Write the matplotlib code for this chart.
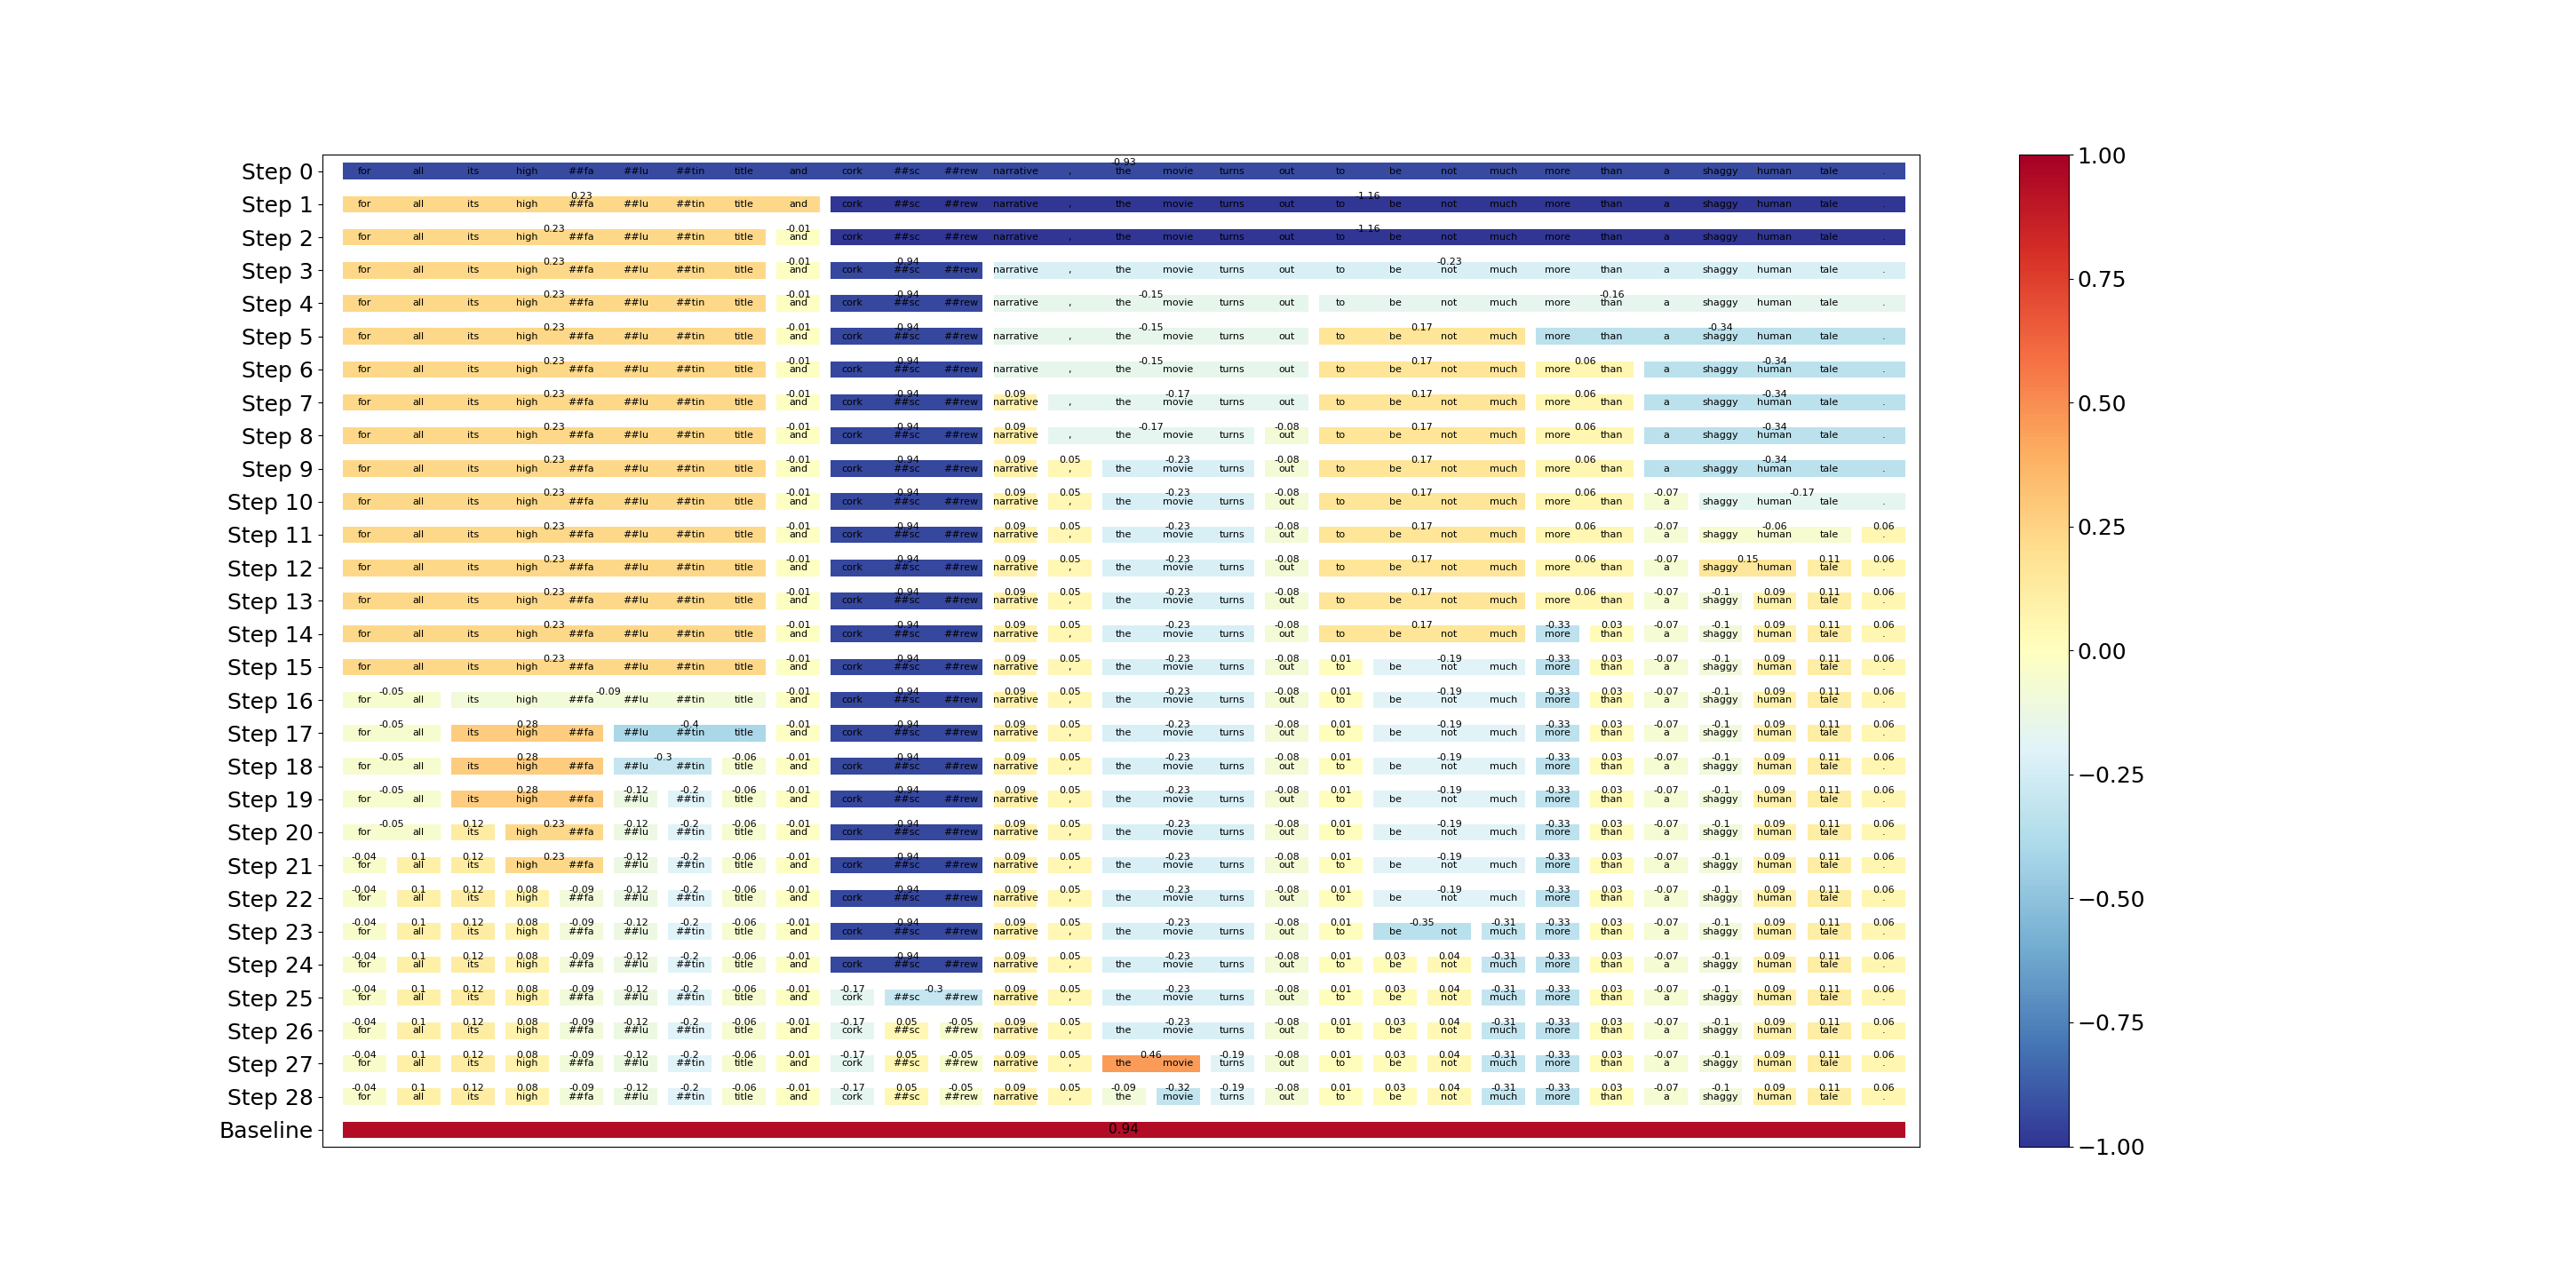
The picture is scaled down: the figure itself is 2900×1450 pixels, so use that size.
import matplotlib
matplotlib.use("Agg")
import matplotlib.pyplot as plt
from matplotlib import cm, colors

# tokens of the sentence
tokens = ["for", "all", "its", "high", "##fa", "##lu", "##tin", "title", "and",
          "cork", "##sc", "##rew", "narrative", ",", "the", "movie", "turns", "out",
          "to", "be", "not", "much", "more", "than", "a", "shaggy", "human", "tale", "."]

row_labels = [f"Step {i}" for i in range(29)] + ["Baseline"]

# first token index of every segment, per row
seg_starts = [
    [0],
    [0, 9],
    [0, 8, 9],
    [0, 8, 9, 12],
    [0, 8, 9, 12, 18],
    [0, 8, 9, 12, 18, 22],
    [0, 8, 9, 12, 18, 22, 24],
    [0, 8, 9, 12, 13, 18, 22, 24],
    [0, 8, 9, 12, 13, 17, 18, 22, 24],
    [0, 8, 9, 12, 13, 14, 17, 18, 22, 24],
    [0, 8, 9, 12, 13, 14, 17, 18, 22, 24, 25],
    [0, 8, 9, 12, 13, 14, 17, 18, 22, 24, 25, 28],
    [0, 8, 9, 12, 13, 14, 17, 18, 22, 24, 25, 27, 28],
    [0, 8, 9, 12, 13, 14, 17, 18, 22, 24, 25, 26, 27, 28],
    [0, 8, 9, 12, 13, 14, 17, 18, 22, 23, 24, 25, 26, 27, 28],
    [0, 8, 9, 12, 13, 14, 17, 18, 19, 22, 23, 24, 25, 26, 27, 28],
    [0, 2, 8, 9, 12, 13, 14, 17, 18, 19, 22, 23, 24, 25, 26, 27, 28],
    [0, 2, 5, 8, 9, 12, 13, 14, 17, 18, 19, 22, 23, 24, 25, 26, 27, 28],
    [0, 2, 5, 7, 8, 9, 12, 13, 14, 17, 18, 19, 22, 23, 24, 25, 26, 27, 28],
    [0, 2, 5, 6, 7, 8, 9, 12, 13, 14, 17, 18, 19, 22, 23, 24, 25, 26, 27, 28],
    [0, 2, 3, 5, 6, 7, 8, 9, 12, 13, 14, 17, 18, 19, 22, 23, 24, 25, 26, 27, 28],
    [0, 1, 2, 3, 5, 6, 7, 8, 9, 12, 13, 14, 17, 18, 19, 22, 23, 24, 25, 26, 27, 28],
    [0, 1, 2, 3, 4, 5, 6, 7, 8, 9, 12, 13, 14, 17, 18, 19, 22, 23, 24, 25, 26, 27, 28],
    [0, 1, 2, 3, 4, 5, 6, 7, 8, 9, 12, 13, 14, 17, 18, 19, 21, 22, 23, 24, 25, 26, 27, 28],
    [0, 1, 2, 3, 4, 5, 6, 7, 8, 9, 12, 13, 14, 17, 18, 19, 20, 21, 22, 23, 24, 25, 26, 27, 28],
    [0, 1, 2, 3, 4, 5, 6, 7, 8, 9, 10, 12, 13, 14, 17, 18, 19, 20, 21, 22, 23, 24, 25, 26, 27, 28],
    [0, 1, 2, 3, 4, 5, 6, 7, 8, 9, 10, 11, 12, 13, 14, 17, 18, 19, 20, 21, 22, 23, 24, 25, 26, 27, 28],
    [0, 1, 2, 3, 4, 5, 6, 7, 8, 9, 10, 11, 12, 13, 14, 16, 17, 18, 19, 20, 21, 22, 23, 24, 25, 26, 27, 28],
    [0, 1, 2, 3, 4, 5, 6, 7, 8, 9, 10, 11, 12, 13, 14, 15, 16, 17, 18, 19, 20, 21, 22, 23, 24, 25, 26, 27, 28],
    [0],
]

# attribution value of every segment, per row
seg_values = [
    [-0.93],
    [0.23, -1.16],
    [0.23, -0.01, -1.16],
    [0.23, -0.01, -0.94, -0.23],
    [0.23, -0.01, -0.94, -0.15, -0.16],
    [0.23, -0.01, -0.94, -0.15, 0.17, -0.34],
    [0.23, -0.01, -0.94, -0.15, 0.17, 0.06, -0.34],
    [0.23, -0.01, -0.94, 0.09, -0.17, 0.17, 0.06, -0.34],
    [0.23, -0.01, -0.94, 0.09, -0.17, -0.08, 0.17, 0.06, -0.34],
    [0.23, -0.01, -0.94, 0.09, 0.05, -0.23, -0.08, 0.17, 0.06, -0.34],
    [0.23, -0.01, -0.94, 0.09, 0.05, -0.23, -0.08, 0.17, 0.06, -0.07, -0.17],
    [0.23, -0.01, -0.94, 0.09, 0.05, -0.23, -0.08, 0.17, 0.06, -0.07, -0.06, 0.06],
    [0.23, -0.01, -0.94, 0.09, 0.05, -0.23, -0.08, 0.17, 0.06, -0.07, 0.15, 0.11, 0.06],
    [0.23, -0.01, -0.94, 0.09, 0.05, -0.23, -0.08, 0.17, 0.06, -0.07, -0.1, 0.09, 0.11, 0.06],
    [0.23, -0.01, -0.94, 0.09, 0.05, -0.23, -0.08, 0.17, -0.33, 0.03, -0.07, -0.1, 0.09, 0.11, 0.06],
    [0.23, -0.01, -0.94, 0.09, 0.05, -0.23, -0.08, 0.01, -0.19, -0.33, 0.03, -0.07, -0.1, 0.09, 0.11, 0.06],
    [-0.05, -0.09, -0.01, -0.94, 0.09, 0.05, -0.23, -0.08, 0.01, -0.19, -0.33, 0.03, -0.07, -0.1, 0.09, 0.11, 0.06],
    [-0.05, 0.28, -0.4, -0.01, -0.94, 0.09, 0.05, -0.23, -0.08, 0.01, -0.19, -0.33, 0.03, -0.07, -0.1, 0.09, 0.11, 0.06],
    [-0.05, 0.28, -0.3, -0.06, -0.01, -0.94, 0.09, 0.05, -0.23, -0.08, 0.01, -0.19, -0.33, 0.03, -0.07, -0.1, 0.09, 0.11, 0.06],
    [-0.05, 0.28, -0.12, -0.2, -0.06, -0.01, -0.94, 0.09, 0.05, -0.23, -0.08, 0.01, -0.19, -0.33, 0.03, -0.07, -0.1, 0.09, 0.11, 0.06],
    [-0.05, 0.12, 0.23, -0.12, -0.2, -0.06, -0.01, -0.94, 0.09, 0.05, -0.23, -0.08, 0.01, -0.19, -0.33, 0.03, -0.07, -0.1, 0.09, 0.11, 0.06],
    [-0.04, 0.1, 0.12, 0.23, -0.12, -0.2, -0.06, -0.01, -0.94, 0.09, 0.05, -0.23, -0.08, 0.01, -0.19, -0.33, 0.03, -0.07, -0.1, 0.09, 0.11, 0.06],
    [-0.04, 0.1, 0.12, 0.08, -0.09, -0.12, -0.2, -0.06, -0.01, -0.94, 0.09, 0.05, -0.23, -0.08, 0.01, -0.19, -0.33, 0.03, -0.07, -0.1, 0.09, 0.11, 0.06],
    [-0.04, 0.1, 0.12, 0.08, -0.09, -0.12, -0.2, -0.06, -0.01, -0.94, 0.09, 0.05, -0.23, -0.08, 0.01, -0.35, -0.31, -0.33, 0.03, -0.07, -0.1, 0.09, 0.11, 0.06],
    [-0.04, 0.1, 0.12, 0.08, -0.09, -0.12, -0.2, -0.06, -0.01, -0.94, 0.09, 0.05, -0.23, -0.08, 0.01, 0.03, 0.04, -0.31, -0.33, 0.03, -0.07, -0.1, 0.09, 0.11, 0.06],
    [-0.04, 0.1, 0.12, 0.08, -0.09, -0.12, -0.2, -0.06, -0.01, -0.17, -0.3, 0.09, 0.05, -0.23, -0.08, 0.01, 0.03, 0.04, -0.31, -0.33, 0.03, -0.07, -0.1, 0.09, 0.11, 0.06],
    [-0.04, 0.1, 0.12, 0.08, -0.09, -0.12, -0.2, -0.06, -0.01, -0.17, 0.05, -0.05, 0.09, 0.05, -0.23, -0.08, 0.01, 0.03, 0.04, -0.31, -0.33, 0.03, -0.07, -0.1, 0.09, 0.11, 0.06],
    [-0.04, 0.1, 0.12, 0.08, -0.09, -0.12, -0.2, -0.06, -0.01, -0.17, 0.05, -0.05, 0.09, 0.05, 0.46, -0.19, -0.08, 0.01, 0.03, 0.04, -0.31, -0.33, 0.03, -0.07, -0.1, 0.09, 0.11, 0.06],
    [-0.04, 0.1, 0.12, 0.08, -0.09, -0.12, -0.2, -0.06, -0.01, -0.17, 0.05, -0.05, 0.09, 0.05, -0.09, -0.32, -0.19, -0.08, 0.01, 0.03, 0.04, -0.31, -0.33, 0.03, -0.07, -0.1, 0.09, 0.11, 0.06],
    [0.94],
]

cmap = plt.get_cmap("RdYlBu_r")
norm = colors.Normalize(vmin=-1, vmax=1)

fig, ax = plt.subplots(figsize=(29, 14.5), dpi=100)

n_tok = len(tokens)
last_row = len(row_labels) - 1
for row, (starts, vals) in enumerate(zip(seg_starts, seg_values)):
    ends = starts[1:] + [n_tok]
    for s, e, v in zip(starts, ends, vals):
        # each token takes 0.8 of its slot, leaving a small gap between segments
        ax.barh(row, e - s - 0.2, left=s, height=0.5, color=cmap(norm(v)))
        mid = (s + e - 0.2) / 2
        if row == last_row:
            ax.text(mid, row, f"{v:g}", ha="center", va="center", fontsize=11)
        else:
            ax.text(mid, row - 0.25, f"{v:g}", ha="center", va="center", fontsize=8)
    if row != last_row:
        for i, tok in enumerate(tokens):
            ax.text(i + 0.4, row, tok, ha="center", va="center", fontsize=8)

ax.set_yticks(range(len(row_labels)))
ax.set_yticklabels(row_labels, fontsize=18)
ax.set_xticks([])
ax.set_xlim(-0.38, 29.06)
ax.set_ylim(len(row_labels) - 0.5, -0.5)

sm = cm.ScalarMappable(norm=norm, cmap=cmap)
cbar = fig.colorbar(sm, ax=ax)
cbar.ax.tick_params(labelsize=18)

fig.savefig("out.png")
